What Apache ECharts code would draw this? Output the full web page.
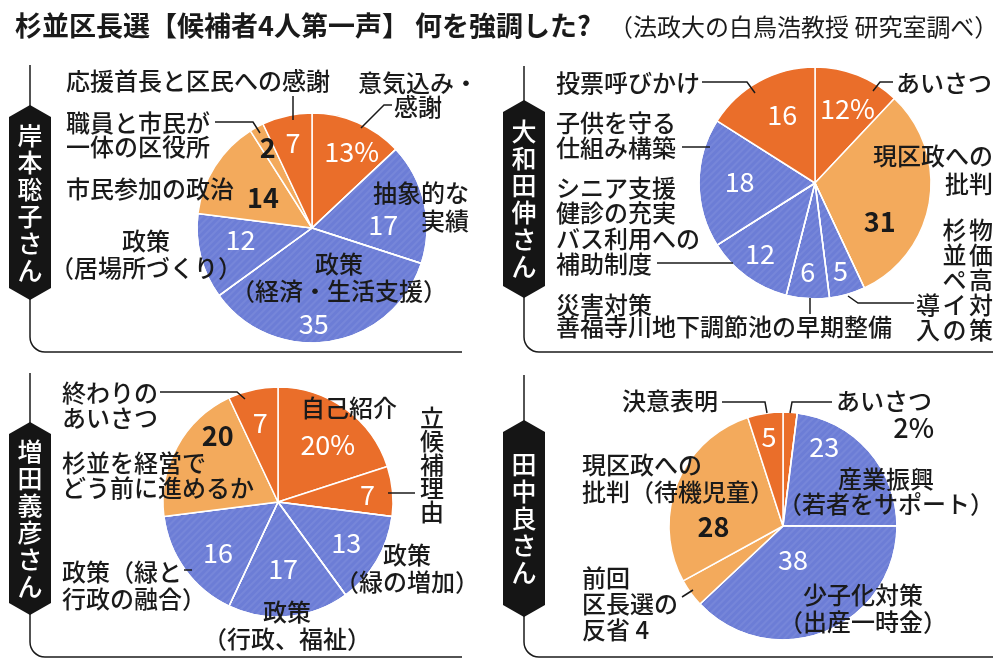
<!DOCTYPE html>
<html>
<head>
<meta charset="utf-8">
<title>杉並区長選 候補者4人第一声</title>
<script src="https://cdn.jsdelivr.net/npm/echarts@6.0.0/dist/echarts.min.js"></script>
<style>
  html, body { margin: 0; padding: 0; background: #fff; }
  #chart { width: 1000px; height: 668px; }
</style>
</head>
<body>
<div id="chart"></div>
<script>
(function () {
  'use strict';

  // share of each speech (%), slices listed clockwise from 12 o'clock
  var candidates = ['岸本聡子さん', '大和田伸さん', '増田義彦さん', '田中良さん'];

  var kishimotoCats = ['意気込み・\n感謝', '抽象的な\n実績', '政策\n（経済・生活支援）', '政策\n（居場所づくり）', '市民参加の政治', '職員と市民が\n一体の区役所', '応援首長と区民への感謝'];
  var kishimotoVals = [13, 17, 35, 12, 14, 2, 7];
  var kishimotoKinds = ['a', 'b', 'b', 'b', 'c', 'c', 'a'];

  var owadaCats = ['あいさつ', '現区政への\n批判', '物価高対策\n杉並ペイの導入', '災害対策\n善福寺川地下調節池の早期整備', 'シニア支援\n健診の充実\nバス利用への\n補助制度', '子供を守る\n仕組み構築', '投票呼びかけ'];
  var owadaVals = [12, 31, 5, 6, 12, 18, 16];
  var owadaKinds = ['a', 'c', 'b', 'b', 'b', 'b', 'a'];

  var masudaCats = ['自己紹介', '立候補理由', '政策\n（緑の増加）', '政策\n（行政、福祉）', '政策（緑と\n行政の融合）', '杉並を経営で\nどう前に進めるか', '終わりの\nあいさつ'];
  var masudaVals = [20, 7, 13, 17, 16, 20, 7];
  var masudaKinds = ['a', 'a', 'b', 'b', 'b', 'c', 'a'];

  var tanakaCats = ['あいさつ', '産業振興\n（若者をサポート）', '少子化対策\n（出産一時金）', '前回\n区長選の\n反省', '現区政への\n批判（待機児童）', '決意表明'];
  var tanakaVals = [2, 23, 38, 4, 28, 5];
  var tanakaKinds = ['a', 'b', 'b', 'c', 'c', 'a'];

  var FONT = '"Noto Sans CJK JP", "Noto Sans", sans-serif';
  var COLORS = { a: '#EA6E2A', b: '#6C7DD6', c: '#F3AA5C' };
  var INK = '#1a1a1a';
  var stripe = {
    symbol: 'rect', symbolSize: 1,
    dashArrayX: [10, 0], dashArrayY: [2, 3],
    rotation: -Math.PI / 4,
    color: 'rgba(255,255,255,0.07)'
  };

  var panels = [
    {
      cats: kishimotoCats, vals: kishimotoVals, kinds: kishimotoKinds, name: candidates[0],
      center: [312, 228], r: 115, pct: 0, hide: [],
      labelR: [0.75, 0.62, 0.83, 0.63, 0.50, 0.80, 0.76],
      labelShift: [4, 10, 8, 5, -1, 0, 0],
      frame: { x: 30, top: 65, bottom: 352, right: 462, tagTop: 105, tagBottom: 300 },
      places: [
        { x: 418, y: 71, align: 'center', lh: 24 },
        { x: 469, y: 179, align: 'right', lh: 28 },
        { x: 339, y: 250, align: 'center', lh: 27 },
        { x: 146, y: 227, align: 'center', lh: 27 },
        { x: 66, y: 176 },
        { x: 66, y: 111, lh: 24 },
        { x: 66, y: 68 }
      ],
      leaders: [
        [[392, 105], [384, 105], [361, 128]],
        [[215, 122], [253, 122], [260, 133]],
        [[293, 96], [293, 120]]
      ]
    },
    {
      cats: owadaCats, vals: owadaVals, kinds: owadaKinds, name: candidates[1],
      center: [815, 183], r: 116, pct: 0, hide: [],
      labelR: [0.70, 0.65, 0.79, 0.77, 0.77, 0.65, 0.65],
      labelShift: [2, 22, 0, 1, 2, 1, 3],
      frame: { x: 524, top: 66, bottom: 352, right: 993, tagTop: 100, tagBottom: 298 },
      places: [
        { x: 896, y: 70 },
        { x: 993, y: 142, align: 'right', lh: 28 },
        { x: 981, y: 342, vertical: true, bottom: true, lh: 25, step: 26.5 },
        { x: 556, y: 294, lh: 22 },
        { x: 556, y: 175, lh: 25.5 },
        { x: 556, y: 110, lh: 25 },
        { x: 556, y: 70 }
      ],
      leaders: [
        [[702, 82], [747, 82], [755, 93]],
        [[893, 82], [880, 82], [873, 91]],
        [[682, 147], [710, 147]],
        [[657, 263], [733, 263]],
        [[810, 298], [810, 314]],
        [[848, 296], [858, 303], [914, 303]]
      ]
    },
    {
      cats: masudaCats, vals: masudaVals, kinds: masudaKinds, name: candidates[2],
      center: [278, 502], r: 115, pct: 0, hide: [],
      labelR: [0.66, 0.78, 0.69, 0.58, 0.68, 0.78, 0.71],
      labelShift: [5, 1, 0, 1, -4, 19, 0],
      frame: { x: 30, top: 373, bottom: 657, right: 462, tagTop: 422, tagBottom: 615 },
      places: [
        { x: 301, y: 395 },
        { x: 432, y: 406, vertical: true, lh: 23.5, step: 26 },
        { x: 407, y: 541, align: 'center', lh: 27 },
        { x: 287, y: 598, align: 'center', lh: 27 },
        { x: 62, y: 558, lh: 27 },
        { x: 62, y: 450, lh: 25 },
        { x: 62, y: 380, lh: 25 }
      ],
      leaders: [
        [[160, 392], [237, 392], [245, 399]],
        [[388, 493], [415, 493]],
        [[184, 570], [192, 570]]
      ]
    },
    {
      cats: tanakaCats, vals: tanakaVals, kinds: tanakaKinds, name: candidates[3],
      center: [783, 526], r: 114, pct: -1, hide: [0, 3],
      labelR: [0, 0.78, 0.31, 0, 0.61, 0.79],
      labelShift: [0, -21, 5, 0, -22, 0],
      frame: { x: 524, top: 375, bottom: 657, right: 993, tagTop: 420, tagBottom: 617 },
      places: [
        { x: 836, y: 388, valueAt: { x: 934, y: 415 } },
        { x: 886, y: 466, align: 'center', lh: 25 },
        { x: 863, y: 581, align: 'center', lh: 27 },
        { x: 582, y: 565, lh: 26, suffix: true },
        { x: 582, y: 451, lh: 27 },
        { x: 622, y: 388 }
      ],
      leaders: [
        [[722, 402], [765, 402], [767, 413]],
        [[832, 402], [792, 402], [790, 413]],
        [[682, 597], [693, 590]]
      ]
    }
  ];

  // put the number of each slice at its own radius / angle tweak
  function labelPlacer(p) {
    var total = p.vals.reduce(function (s, v) { return s + v; }, 0);
    var mids = [], acc = 0;
    p.vals.forEach(function (v) { mids.push((acc + v / 2) / total * 360); acc += v; });
    return function (q) {
      var i = q.dataIndex;
      var a = (mids[i] + p.labelShift[i]) * Math.PI / 180;
      var d = p.labelR[i] * p.r;
      return {
        x: p.center[0] + d * Math.sin(a),
        y: p.center[1] - d * Math.cos(a),
        align: 'center', verticalAlign: 'middle'
      };
    };
  }

  function pieSeries(p) {
    return {
      type: 'pie',
      center: p.center,
      radius: p.r,
      startAngle: 90,
      clockwise: true,
      silent: true,
      avoidLabelOverlap: false,
      itemStyle: { borderColor: '#fff', borderWidth: 1.5 },
      label: {
        show: true, position: 'inside',
        fontFamily: FONT, fontSize: 27,
        formatter: function (q) { return q.dataIndex === p.pct ? q.value + '%' : String(q.value); }
      },
      labelLine: { show: false },
      labelLayout: labelPlacer(p),
      emphasis: { disabled: true },
      data: p.vals.map(function (v, i) {
        var k = p.kinds[i];
        var style = { color: COLORS[k] };
        if (k === 'b') style.decal = stripe;
        return {
          value: v,
          name: p.cats[i],
          itemStyle: style,
          label: {
            show: p.hide.indexOf(i) < 0,
            color: k === 'c' ? INK : '#fff',
            fontWeight: k === 'c' ? 'bold' : 'normal'
          }
        };
      })
    };
  }

  function text(x, y, str, opt) {
    opt = opt || {};
    return {
      type: 'text', x: x, y: y, z: 100, silent: true,
      style: {
        text: str, fill: opt.fill || INK,
        fontFamily: FONT, fontSize: opt.size || 24, fontWeight: opt.weight || 500,
        align: opt.align || 'left', verticalAlign: opt.valign || 'top',
        lineHeight: opt.lh || 26
      }
    };
  }

  function line(points) {
    return {
      type: 'polyline', z: 100, silent: true,
      shape: { points: points },
      style: { stroke: INK, lineWidth: 1.5, fill: null }
    };
  }

  var graphics = [];

  graphics.push(text(15, 26, '杉並区長選【候補者4人第一声】 何を強調した?', { size: 27, weight: 'bold', valign: 'middle' }));
  graphics.push(text(609, 27, '（法政大の白鳥浩教授 研究室調べ）', { size: 24, weight: 'normal', valign: 'middle' }));

  panels.forEach(function (p) {
    var f = p.frame, rad = 15;

    // bracket frame and hexagonal name tag
    graphics.push(line([[f.x, f.top], [f.x, f.bottom - rad]]));
    graphics.push({
      type: 'arc', z: 100, silent: true,
      shape: { cx: f.x + rad, cy: f.bottom - rad, r: rad, startAngle: Math.PI / 2, endAngle: Math.PI, clockwise: true },
      style: { stroke: INK, lineWidth: 1.5, fill: null }
    });
    graphics.push(line([[f.x + rad, f.bottom], [f.right, f.bottom]]));
    graphics.push({
      type: 'polygon', z: 101, silent: true,
      shape: { points: [
        [f.x, f.tagTop], [f.x + 21, f.tagTop + 12], [f.x + 21, f.tagBottom - 12],
        [f.x, f.tagBottom], [f.x - 21, f.tagBottom - 12], [f.x - 21, f.tagTop + 12]
      ] },
      style: { fill: '#151515' }
    });
    var nm = text(f.x, (f.tagTop + f.tagBottom) / 2, p.name.split('').join('\n'),
      { fill: '#fff', size: 25, lh: 27, align: 'center', valign: 'middle' });
    nm.z = 102;
    graphics.push(nm);

    // category names
    p.places.forEach(function (pl, i) {
      var cat = p.cats[i];
      if (pl.vertical) {
        var cols = [];
        cat.split('\n').forEach(function (l) {
          for (var k = 0; k < l.length; k += 5) cols.push(l.slice(k, k + 5));
        });
        cols.forEach(function (c, ci) {
          graphics.push(text(pl.x - ci * pl.step, pl.y, c.split('').join('\n'),
            { align: 'center', valign: pl.bottom ? 'bottom' : 'top', lh: pl.lh }));
        });
        return;
      }
      if (pl.suffix) cat = cat + ' ' + p.vals[i];
      graphics.push(text(pl.x, pl.y, cat, { align: pl.align, lh: pl.lh }));
      if (pl.valueAt) {
        graphics.push(text(pl.valueAt.x, pl.valueAt.y, p.vals[i] + '%', { align: 'right', size: 27 }));
      }
    });

    p.leaders.forEach(function (pts) { graphics.push(line(pts)); });
  });

  var chart = echarts.init(document.getElementById('chart'), null, { renderer: 'canvas' });
  chart.setOption({
    backgroundColor: '#fff',
    animation: false,
    textStyle: { fontFamily: FONT },
    series: panels.map(pieSeries),
    graphic: { elements: graphics }
  });
})();
</script>
</body>
</html>
